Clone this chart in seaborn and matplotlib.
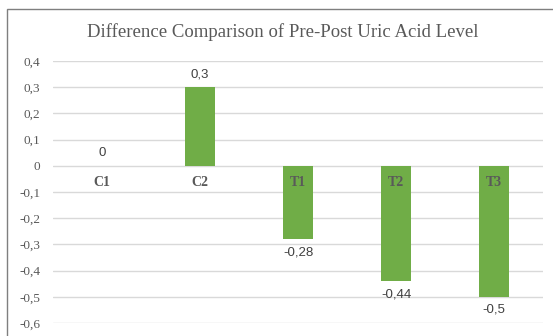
import matplotlib
matplotlib.use("Agg")
import matplotlib.pyplot as plt
import seaborn as sns
from matplotlib.patches import Rectangle

categories = ["C1", "C2", "T1", "T2", "T3"]
differences = [0, 0.3, -0.28, -0.44, -0.5]
y_ticks = [0.4, 0.3, 0.2, 0.1, 0, -0.1, -0.2, -0.3, -0.4, -0.5, -0.6]

BAR_COLOR = "#70ad47"
TEXT_GRAY = "#595959"


def comma(v):
    s = f"{v:g}"
    return s.replace(".", ",")


sns.set_theme(style="white")
plt.rcParams["font.family"] = ["Liberation Serif", "DejaVu Serif"]

fig = plt.figure(figsize=(5.53, 3.36), dpi=100)
# chart frame (Excel style border)
fig.patches.append(Rectangle((7 / 553, -0.1), 1.2, 1 - 9 / 336 + 0.1,
                             transform=fig.transFigure, fill=False,
                             edgecolor="#7f7f7f", linewidth=1.0))

ax = fig.add_axes([53 / 553, 1 - 323 / 336, 490 / 553, 262 / 336])
sns.barplot(x=categories, y=differences, color=BAR_COLOR, width=0.31,
            saturation=1, ax=ax, linewidth=0, edgecolor="none")

ax.set_xlim(-0.5, 4.5)
ax.set_ylim(-0.6, 0.4)
ax.set_yticks(y_ticks)
ax.set_yticklabels([comma(t) for t in y_ticks], fontsize=9.5, color=TEXT_GRAY)
ax.yaxis.grid(True, color="#d9d9d9", linewidth=1.0)
ax.set_axisbelow(True)
for sp in ["top", "right", "left"]:
    ax.spines[sp].set_visible(False)
ax.spines["bottom"].set_position(("data", 0))
ax.spines["bottom"].set_visible(False)
ax.tick_params(axis="both", length=0)
ax.tick_params(axis="x", pad=7)
ax.tick_params(axis="y", pad=9)
ax.set_xticks(range(len(categories)))
ax.set_xticklabels(categories, fontsize=10, fontweight="bold", color=TEXT_GRAY)
# category names sit on top of the bars
ax.xaxis.set_zorder(4)
ax.set_xlabel("")
ax.set_ylabel("")

for container in ax.containers:
    ax.bar_label(container, labels=[comma(v) for v in differences],
                 padding=5, fontsize=9.5, color="#404040",
                 family=["Liberation Sans", "DejaVu Sans"])

fig.text(283 / 553, 1 - 32 / 336, "Difference Comparison of Pre-Post Uric Acid Level",
         ha="center", va="center", fontsize=13.5, color=TEXT_GRAY)

fig.savefig("out.png", dpi=100)
